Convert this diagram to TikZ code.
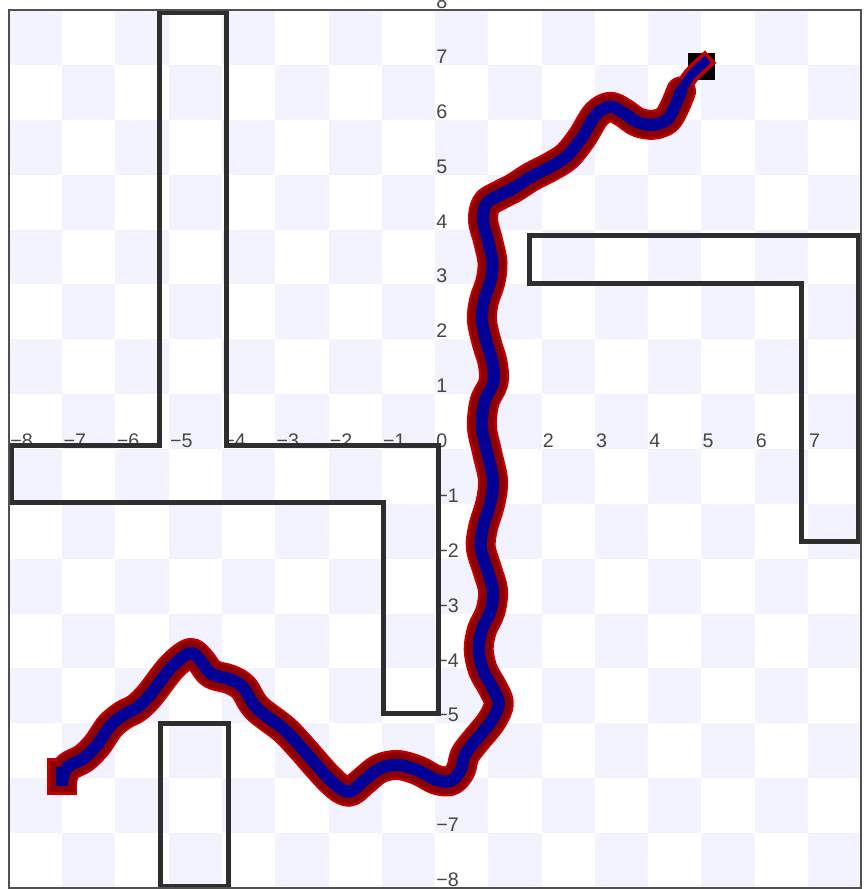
\documentclass[tikz,border=0pt]{standalone}
\usepackage{fontspec}
\setmainfont{Liberation Sans}
\usepackage{tikz}

\definecolor{cellblue}{RGB}{243,243,255}
\definecolor{wallgray}{RGB}{46,46,46}
\definecolor{framegray}{RGB}{80,80,80}
\definecolor{labelgray}{RGB}{70,70,70}
\definecolor{trailrim}{RGB}{195,0,0}
\definecolor{traildark}{RGB}{139,0,0}
\definecolor{trailblue}{RGB}{0,0,150}

\newcommand\ticktext[1]{\ifnum#1<0 −\number\numexpr-#1\relax\else#1\fi}

% planned route, start to goal
\def\routemain{plot[smooth, tension=0.55] coordinates {(start)
  (-6.9,-5.8) (-6.6,-5.64) (-6.35,-5.4) (-6.1,-5.05) (-5.85,-4.85) (-5.6,-4.72)
  (-5.35,-4.48) (-4.95,-3.98) (-4.6,-3.72) (-4.4,-3.86) (-4.2,-4.1) (-3.85,-4.2)
  (-3.6,-4.35) (-3.35,-4.72) (-2.85,-5.1) (-2.55,-5.4) (-1.95,-6.05) (-1.62,-6.25)
  (-1.35,-6.06) (-1.05,-5.83) (-0.7,-5.76) (-0.32,-5.86) (0.02,-6.03) (0.3,-6.05)
  (0.48,-5.86) (0.56,-5.58) (0.76,-5.32) (1.06,-4.96) (1.2,-4.64) (1.08,-4.35)
  (0.9,-4.03) (0.82,-3.66) (0.88,-3.3) (1.04,-2.96) (1.09,-2.58) (0.98,-2.2)
  (0.86,-1.8) (0.9,-1.44) (1.04,-0.98) (1.09,-0.57) (0.98,-0.07) (0.88,0.4)
  (0.93,0.86) (1.1,1.22) (1.08,1.58) (0.97,1.94) (0.88,2.35) (0.92,2.7)
  (1.04,3.05) (1.08,3.4) (1.0,3.78) (0.9,4.18) (0.97,4.48) (1.2,4.62)
  (1.48,4.76) (1.8,4.96) (2.16,5.14) (2.48,5.34) (2.76,5.68) (3.03,6.1)
  (3.29,6.24) (3.54,6.13) (3.8,5.96) (4.09,5.91) (4.35,6.0) (4.5,6.24) (4.62,6.52)}}
\def\routestub{(start) -- ++(0,0.12)}
\def\routetail{plot[smooth] coordinates {(4.5,6.24) (4.62,6.52) (4.8,6.8) (5.06,7.05)}}

\begin{document}
\begin{tikzpicture}[
    x=1cm, y=1.03cm,
    cell/.style={fill=cellblue},
    wall/.style={draw=wallgray, line width=2.6pt, line join=miter},
    frame/.style={draw=framegray, line width=1pt},
    tick/.style={anchor=south west, inner sep=0.5pt, text=labelgray, font=\fontsize{10.5}{12}\selectfont},
    band/.style={draw=#1, line cap=round, line join=round},
    bandend/.style={draw=#1, line cap=rect}
]
\useasboundingbox (-8.169,-8.022) rectangle (8.038,8.186);

% checkerboard floor
\foreach \i in {-8,...,7}{
  \foreach \j in {-8,...,7}{
    \pgfmathtruncatemacro\odd{mod(\i+\j+16,2)}
    \ifnum\odd=1 \fill[cell] (\i,\j) rectangle ++(1,1); \fi
  }
}

% axis numbers
\node[tick] (o) at (0,0) {0};
\foreach \k in {-8,...,-1,1,2,...,7}
  \node[tick] (xl\k) at (\k,0) {\ticktext{\k}};
\foreach \k in {-8,...,-1,1,2,...,8}
  \node[tick] (yl\k) at (0,\k) {\ticktext{\k}};

% obstacles
\draw[wall] (-7.96,-0.98) -- (-7.96,0.06) -- (-5.17,0.06) -- (-5.17,7.95) -- (-3.92,7.95)
  -- (-3.92,0.06) -- (0.07,0.06) -- (0.07,-4.83) -- (-0.97,-4.83) -- (-0.97,-0.98) -- cycle;
\draw[wall] (-5.16,-7.98) -- (-5.16,-5.01) -- (-3.88,-5.01) -- (-3.88,-7.98) -- cycle;
\draw[wall] (1.77,3.9) -- (7.96,3.9) -- (7.96,-1.68) -- (6.88,-1.68) -- (6.88,3.01)
  -- (1.77,3.01) -- cycle;

\draw[frame] (-8,-8) rectangle (8,8);

% start and goal
\coordinate (start) at (-7,-6.03);
\node[fill=black, inner sep=0pt, minimum size=0.51cm] (goal) at (5,6.98) {};

\draw[band=trailrim, line width=16pt] \routemain;
\draw[bandend=trailrim, line width=16pt] \routestub;
\draw[bandend=trailrim, line width=9pt] \routetail;
\draw[band=traildark, line width=13.5pt] \routemain;
\draw[bandend=traildark, line width=13.5pt] \routestub;
\draw[band=trailblue, line width=6.5pt] \routemain;
\draw[bandend=trailblue, line width=6.5pt] \routestub;
\draw[bandend=trailblue, line width=5pt] \routetail;

\end{tikzpicture}
\end{document}
